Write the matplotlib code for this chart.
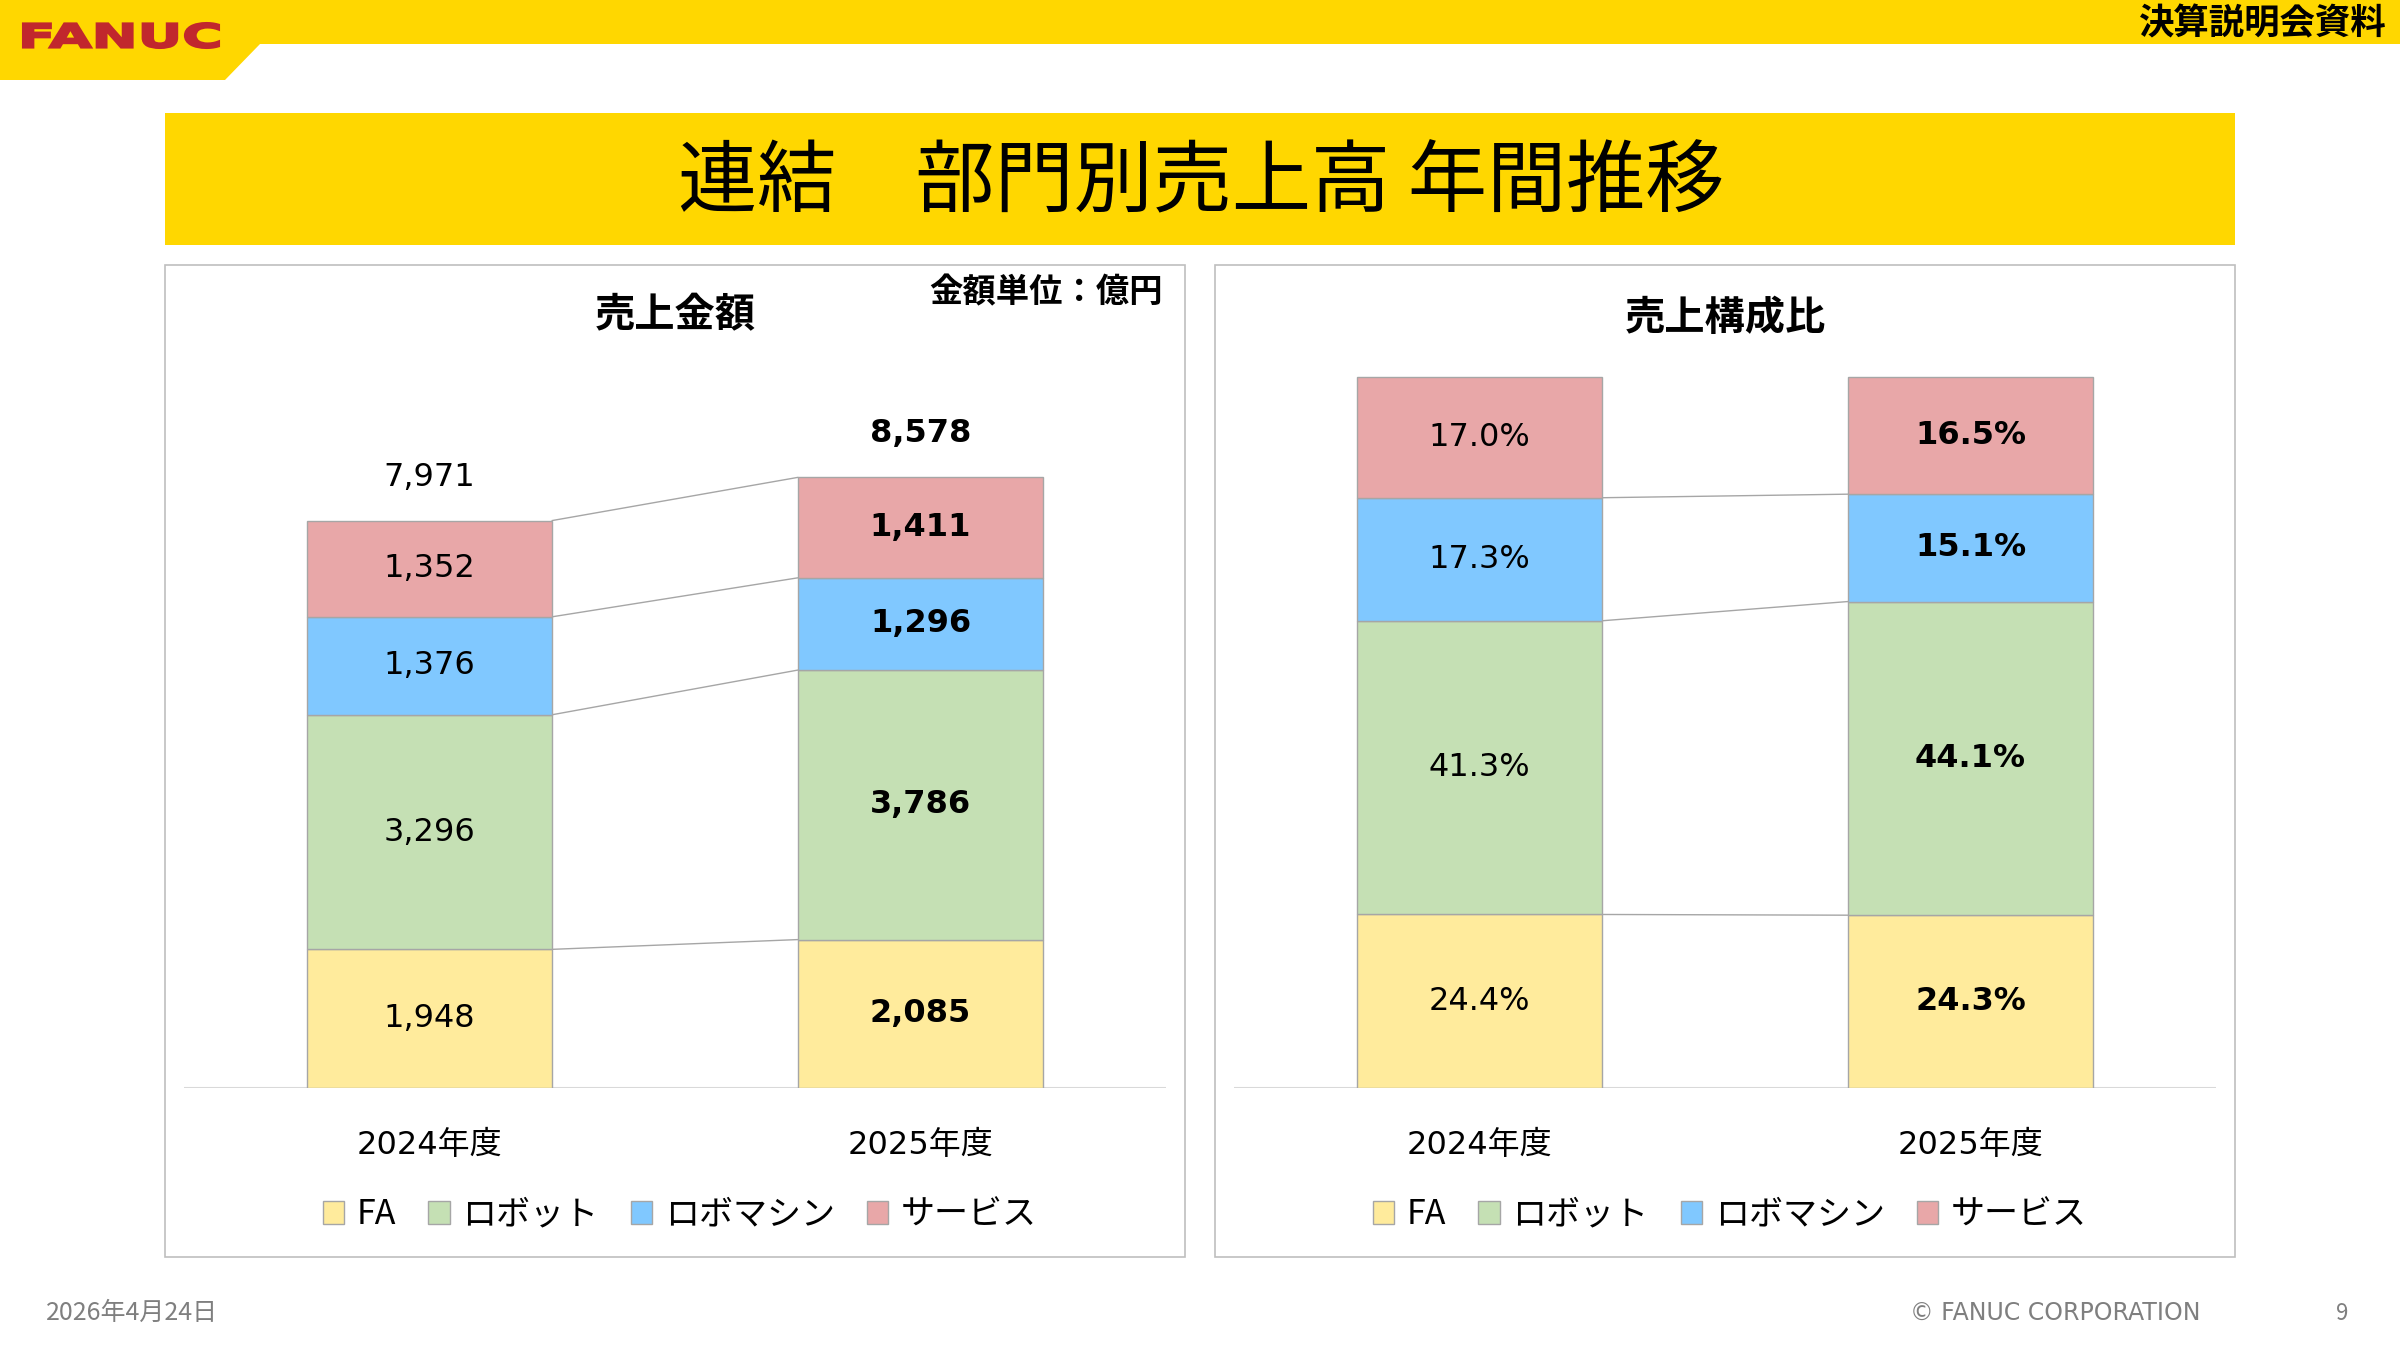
import matplotlib
matplotlib.use("Agg")
import matplotlib.pyplot as plt
import numpy as np
from matplotlib.patches import Rectangle, Polygon, PathPatch
from matplotlib.textpath import TextPath
from matplotlib.font_manager import FontProperties
from matplotlib.transforms import Affine2D

# data
years = ['2024年度', '2025年度']
segments = ['FA', 'ロボット', 'ロボマシン', 'サービス']
colors = ['#FFEB9C', '#C5E0B4', '#80C8FF', '#E8A7A8']
sales_2024 = [1948, 3296, 1376, 1352]
sales_2025 = [2085, 3786, 1296, 1411]
totals = [7971, 8578]
share_2024 = [24.4, 41.3, 17.3, 17.0]
share_2025 = [24.3, 44.1, 15.1, 16.5]

W, H = 2400, 1350
JP = ['Noto Sans CJK JP', 'DejaVu Sans']
NUM = ['DejaVu Sans', 'Noto Sans CJK JP']
EDGE = '#A6A6A6'


def fx(x):
    return x / W


def fy(y):
    return 1 - y / H


fig = plt.figure(figsize=(24, 13.5), dpi=100)

# background / decorations in pixel coords
bg = fig.add_axes([0, 0, 1, 1])
bg.set_xlim(0, W)
bg.set_ylim(H, 0)
bg.axis('off')

yellow = '#FFD700'
bg.add_patch(Rectangle((0, 0), W, 44, color=yellow, lw=0))
bg.add_patch(Polygon([(0, 0), (0, 80), (225, 80), (260, 44), (260, 0)],
                     closed=True, color=yellow, lw=0))

# FANUC logo, stretched wide
tp = TextPath((0, 0), 'FANUC', size=100,
              prop=FontProperties(family='DejaVu Sans', weight='bold'))
ext = tp.get_extents()
sx = (219 - 23) / ext.width
sy = (48 - 23) / ext.height
tr = Affine2D().translate(-ext.x0, -ext.y0).scale(sx, -sy).translate(23, 48)
bg.add_patch(PathPatch(tr.transform_path(tp), fc='#C1272D', ec='#C1272D',
                       lw=1.5))

bg.text(2387, 24, '決算説明会資料', family=JP, fontsize=25.5, weight='bold',
        ha='right', va='center')

# title bar
bg.add_patch(Rectangle((165, 113), 2070, 132, color=yellow, lw=0))
bg.text(1201, 184, '連結　部門別売上高 年間推移', family=JP, fontsize=57,
        ha='center', va='center')

# panel frames
for x0 in (165, 1215):
    bg.add_patch(Rectangle((x0, 265), 1020, 992, fill=False,
                           ec='#BFBFBF', lw=1.2))

bg.text(675, 316, '売上金額', family=JP, fontsize=29, weight='bold',
        ha='center', va='center')
bg.text(1163, 293, '金額単位：億円', family=JP, fontsize=24, weight='bold',
        ha='right', va='center')
bg.text(1725, 318, '売上構成比', family=JP, fontsize=29, weight='bold',
        ha='center', va='center')

# footer
bg.text(46, 1313, '2026年4月24日', family=JP, fontsize=18, color='#7F7F7F',
        ha='left', va='center')
bg.text(2200, 1313, '© FANUC CORPORATION', family=['Liberation Sans Narrow', 'DejaVu Sans'],
        fontsize=17, color='#7F7F7F', ha='right', va='center')
bg.text(2342, 1313, '9', family=JP, fontsize=16, color='#7F7F7F',
        ha='center', va='center')


def stacked(ax, v1, v2, ymax, fmt, connect_top):
    x = np.arange(len(years))
    width = 0.5
    b1 = np.concatenate([[0], np.cumsum(v1)[:-1]])
    b2 = np.concatenate([[0], np.cumsum(v2)[:-1]])
    handles = []
    for i, seg in enumerate(segments):
        bars = ax.bar(x, [v1[i], v2[i]], width, bottom=[b1[i], b2[i]],
                      color=colors[i], edgecolor=EDGE, linewidth=1,
                      label=seg, zorder=2)
        handles.append(bars)
        ax.text(0, b1[i] + v1[i] / 2, fmt(v1[i]), family=NUM, fontsize=23,
                ha='center', va='center', zorder=3)
        ax.text(1, b2[i] + v2[i] / 2, fmt(v2[i]), family=NUM, fontsize=23,
                weight='bold', ha='center', va='center', zorder=3)
    tops1 = np.cumsum(v1)
    tops2 = np.cumsum(v2)
    n = len(segments) if connect_top else len(segments) - 1
    for i in range(n):
        ax.plot([width / 2, 1 - width / 2], [tops1[i], tops2[i]],
                color=EDGE, lw=1, zorder=1)
    ax.set_xlim(-0.5, 1.5)
    ax.set_ylim(0, ymax)
    ax.axhline(0, color='#D9D9D9', lw=1.5, zorder=1)
    for s in ax.spines.values():
        s.set_visible(False)
    ax.set_yticks([])
    ax.set_xticks(x)
    ax.set_xticklabels(years, family=NUM, fontsize=23)
    ax.tick_params(axis='x', length=0, pad=30)
    ax.patch.set_alpha(0)
    ax.legend(handles=handles, loc='center',
              bbox_to_anchor=(0.505, (-(1215 - 1088)) / 783),
              ncol=4, frameon=False, prop={'family': JP, 'size': 24.5},
              handlelength=0.62, handleheight=0.62, handletextpad=0.38,
              columnspacing=0.95, borderaxespad=0)
    return ax


ax1 = fig.add_axes([fx(184), fy(1088), 982 / W, 783 / H])
stacked(ax1, sales_2024, sales_2025, 11000, lambda v: f'{v:,}', True)
ax1.text(0, totals[0] + 610, f'{totals[0]:,}', family=NUM, fontsize=23,
         ha='center', va='center')
ax1.text(1, totals[1] + 610, f'{totals[1]:,}', family=NUM, fontsize=23,
         weight='bold', ha='center', va='center')

ax2 = fig.add_axes([fx(1234), fy(1088), 982 / W, 783 / H])
stacked(ax2, share_2024, share_2025, 110.1, lambda v: f'{v:.1f}%', False)

fig.savefig('out.png', dpi=100)
